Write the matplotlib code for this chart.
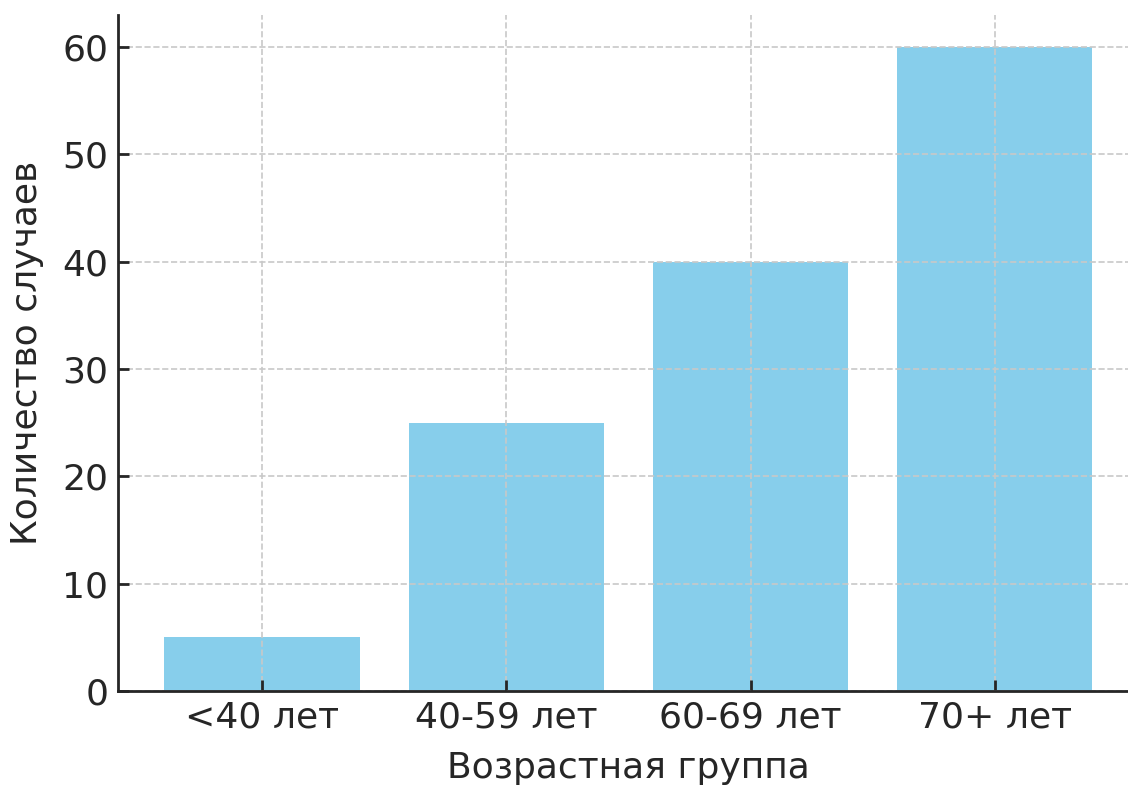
import matplotlib
matplotlib.use("Agg")
import matplotlib.pyplot as plt

groups = ['<40 лет', '40-59 лет', '60-69 лет', '70+ лет']
cases = [5, 25, 40, 60]

plt.rcParams['font.family'] = ['DejaVu Sans']
plt.rcParams['font.size'] = 26

fig = plt.figure(figsize=(11.28, 7.85), dpi=100)
ax = fig.add_axes([0.1046, 0.1197, 0.905, 0.8612])

ax.bar(groups, cases, color='skyblue', width=0.8)
ax.set_xlabel('Возрастная группа', color='#262626', labelpad=12)
ax.set_ylabel('Количество случаев', color='#262626', labelpad=13)

ax.grid(True, linestyle='--', color='#c8c8c8', linewidth=1.2)
ax.set_axisbelow(False)
for s in ['top', 'right']:
    ax.spines[s].set_visible(False)
for s in ['left', 'bottom']:
    ax.spines[s].set_linewidth(2)
    ax.spines[s].set_color('#262626')
    ax.spines[s].set_zorder(5)
ax.tick_params(direction='in', length=8, width=2, colors='#262626', labelsize=26, pad=7)

fig.savefig('out.png', dpi=100)
